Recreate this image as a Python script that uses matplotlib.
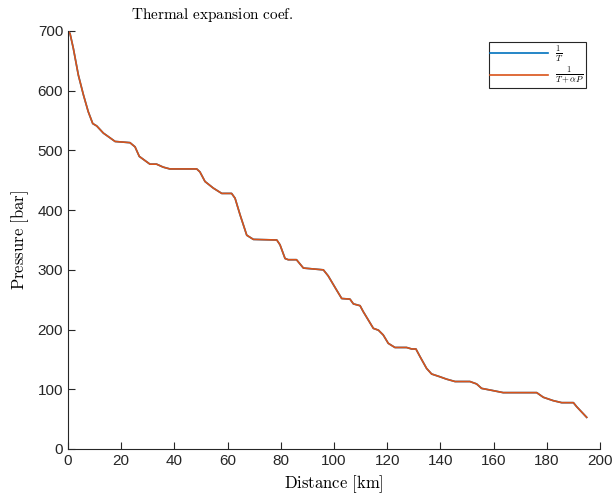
import matplotlib
matplotlib.use("Agg")
import matplotlib.pyplot as plt

# distance [km] and pressure [bar]
dist = [0, 0.75, 2, 3.9, 5.8, 7.6, 9.3, 10.8, 13.3, 15.2, 17.7, 23.3, 25.2,
        26.8, 30.8, 33.3, 35.8, 38.3, 48.4, 49.6, 51.5, 54.6, 57.8, 61.5,
        62.8, 64.7, 67.2, 69.7, 78.5, 79.7, 81.6, 82.8, 85.9, 88.5, 96,
        97.8, 99.0, 101, 102.9, 106, 107.3, 109.8, 111, 112.9, 114.8, 116.7,
        118.5, 120.4, 122.9, 127.3, 129.2, 130.8, 132.3, 134.8, 136.7, 139.8,
        142.3, 145.5, 151.1, 153.6, 155.5, 159.9, 163.6, 176.2, 178.7, 182.4,
        185.6, 190, 191.2, 195]
pres = [700, 696, 671, 626, 593, 565, 545, 541, 529, 523, 515, 513, 506,
        490, 477, 477, 472, 469, 469, 464, 448, 437, 428, 428,
        420, 392, 358, 351, 350, 342, 319, 317, 317, 303, 300,
        290, 281, 266, 252, 251, 243, 240, 230, 216, 202, 199,
        191, 177, 170, 170, 167.5, 167.5, 155, 135, 125.6, 121,
        117, 113, 113, 109, 101.5, 97.7, 94.4, 94.4, 86.6, 81,
        77.6, 77.6, 71, 53]

x_ticks = [0, 20, 40, 60, 80, 100, 120, 140, 160, 180, 200]
y_ticks = [0, 100, 200, 300, 400, 500, 600, 700]

plt.rcParams['mathtext.fontset'] = 'cm'
plt.rcParams['font.family'] = ['Liberation Sans', 'DejaVu Sans']

fig = plt.figure(figsize=(6.13, 4.95), dpi=100)
ax = fig.add_axes([68 / 613, 1 - 449 / 495, 532 / 613, 418 / 495])

ax.plot(dist, pres, color=(0, 0.447, 0.741), lw=1.2, label=r'$\frac{1}{T}$')
ax.plot(dist, pres, color=(0.85, 0.325, 0.098), lw=1.2, label=r'$\frac{1}{T+\alpha P}$')

ax.set_xlim(0, 200)
ax.set_ylim(0, 700)
ax.set_xticks(x_ticks)
ax.set_yticks(y_ticks)
ax.tick_params(direction='in', length=5, width=0.8, labelsize=11,
               colors='0.15', top=False, right=False)
for s in ['top', 'right']:
    ax.spines[s].set_visible(False)
for s in ['left', 'bottom']:
    ax.spines[s].set_color('0.15')
    ax.spines[s].set_linewidth(0.8)

ax.set_xlabel(r'$\mathrm{Distance\ [km]}$', fontsize=12, labelpad=4)
ax.set_ylabel(r'$\mathrm{Pressure\ [bar]}$', fontsize=12, labelpad=5)
fig.text(212 / 613, 1 - 15 / 495, r'$\mathrm{Thermal\ expansion\ coef.}$',
         ha='center', va='center', fontsize=11)

leg = ax.legend(loc='upper right', bbox_to_anchor=(586 / 613, 1 - 42 / 495),
                bbox_transform=fig.transFigure, fancybox=False, framealpha=1,
                edgecolor='0.15', borderaxespad=0, fontsize=9,
                handlelength=4.6, borderpad=0.12, labelspacing=0.1,
                handletextpad=0.6)
leg.get_frame().set_linewidth(0.8)

fig.savefig('out.png', dpi=100)
